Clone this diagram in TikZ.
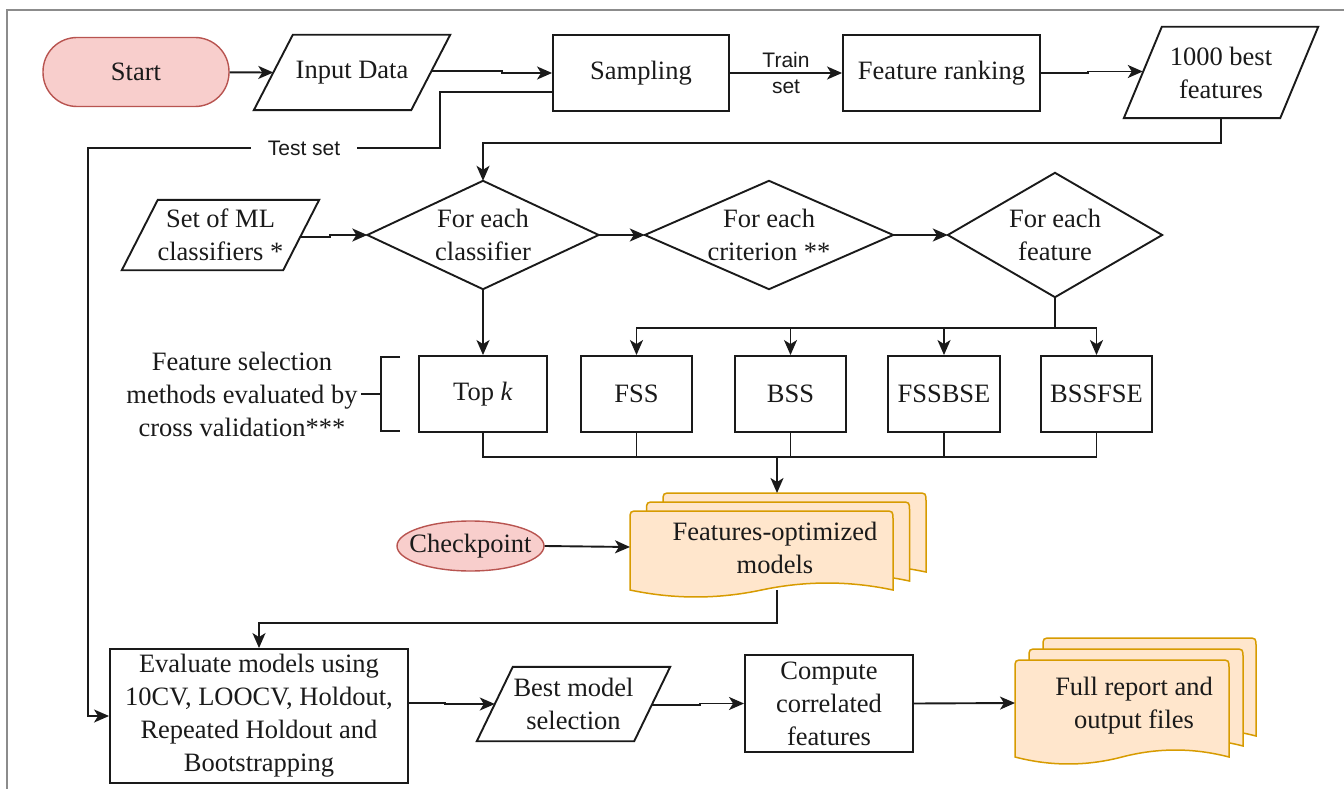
\documentclass[tikz,border=0pt]{standalone}
\usepackage{fontspec}
\setmainfont{Liberation Serif}
\setsansfont{Liberation Sans}
\usetikzlibrary{arrows.meta,calc,shapes.geometric}
\definecolor{ink}{HTML}{1A1A1A}
\definecolor{pinkfill}{HTML}{F8CECC}
\definecolor{pinkline}{HTML}{B85450}
\definecolor{docfill}{HTML}{FFE6CC}
\definecolor{docline}{HTML}{D79B00}
\definecolor{framegray}{HTML}{8C8C8C}
\tikzset{
  base/.style={inner sep=0pt, align=center, font=\fontsize{26.5}{33}\selectfont, text=ink},
  boxst/.style={base, draw=ink, line width=1.9pt, rectangle},
  termst/.style={base, draw=pinkline, fill=pinkfill, line width=1.4pt},
  plain/.style={base},
  conn/.style={draw=ink, line width=1.9pt},
  arr/.style={conn, -{Stealth[length=15pt,width=13pt,inset=4pt]}},
  lbl/.style={font=\sffamily\fontsize{21}{26}\selectfont, text=ink, align=center, inner sep=3pt},
  shapeline/.style={draw=ink, line width=1.9pt, line join=miter},
  docst/.style={draw=docline, fill=docfill, line width=1.5pt},
}
\newcommand{\para}[2]{\draw[shapeline] ([xshift=#2]#1.north west) -- (#1.north east) -- ([xshift=-#2]#1.south east) -- (#1.south west) -- cycle;}
\newcommand{\dia}[1]{\draw[shapeline] (#1.north) -- (#1.east) -- (#1.south) -- (#1.west) -- cycle;}
\newcommand{\docshape}[4]{%
  \filldraw[docst] (#1,#4) -- (#1,{#2+9}) .. controls (#1,#2) .. ({#1+9},#2) -- ({#3-9},#2) .. controls (#3,#2) .. (#3,{#2+9}) -- (#3,#4)
   .. controls ({#3-(#3-#1)/6},{#4-9.3}) and ({#3-(#3-#1)/3},{#4-9.3}) .. ({(#1+#3)/2},#4)
   .. controls ({(#1+#3)/2-(#3-#1)/6},{#4+9.3}) and ({#1+(#3-#1)/6},{#4+9.3}) .. (#1,#4) -- cycle;}
\begin{document}
\begin{tikzpicture}[x=1pt,y=-1pt]
\useasboundingbox (0,0) rectangle (1344,789);
% frame
\draw[framegray, line width=1.3pt] (7,789) -- (7,10) -- (1344,10);

% row 1
\node[termst, rounded corners=34pt, minimum width=186pt, minimum height=69pt] (start) at (136,72) {Start};
\node[plain, minimum width=196pt, minimum height=75pt] (input) at (352,72.5) {Input Data};
\para{input}{39pt}
\node[boxst, minimum width=176pt, minimum height=76pt] (samp) at (641,73) {Sampling};
\node[boxst, minimum width=197pt, minimum height=76pt] (rank) at (941.5,73) {Feature ranking};
\node[plain, minimum width=194pt, minimum height=91pt] (best) at (1221,72.5) {1000 best\\features};
\para{best}{38pt}

% row 2
\node[plain, minimum width=197pt, minimum height=70pt] (setml) at (220.5,235) {Set of ML\\classifiers *};
\para{setml}{36pt}
\node[plain, minimum width=231pt, minimum height=108pt] (cls) at (483,235) {For each\\classifier};
\dia{cls}
\node[plain, minimum width=248pt, minimum height=108pt] (crit) at (769,235) {For each\\criterion **};
\dia{crit}
\node[plain, minimum width=214pt, minimum height=124pt] (feat) at (1055,235) {For each\\feature};
\dia{feat}

% row 3
\node[plain] (fsm) at (242,394) {Feature selection\\methods evaluated by\\cross validation***};
\node[boxst, minimum width=128pt, minimum height=76pt] (topk) at (483,394) {Top \textit{k}};
\node[boxst, minimum width=111pt, minimum height=76pt] (fss) at (636.5,394) {FSS};
\node[boxst, minimum width=111pt, minimum height=76pt] (bss) at (790.5,394) {BSS};
\node[boxst, minimum width=112pt, minimum height=76pt] (fssbse) at (944,394) {FSSBSE};
\node[boxst, minimum width=111pt, minimum height=76pt] (bssfse) at (1096.5,394) {BSSFSE};
\draw[conn] (400,357) -- (381,357) -- (381,431) -- (400,431);
\draw[conn] (361,394) -- (381,394);

% row 4
\node[termst, ellipse, minimum width=147pt, minimum height=50pt] (chk) at (470.5,546) {\makebox[0pt]{Checkpoint}};
\docshape{663}{493}{926}{572}
\docshape{646.5}{502}{909.5}{581}
\docshape{630}{511}{893}{590}
\node[plain] (fom) at (775,548) {Features-optimized\\models};
\coordinate (fomtop) at (777,493);
\coordinate (fomleft) at (630,547);
\coordinate (fombot) at (777,590);

% row 5
\node[boxst, minimum width=298pt, minimum height=134pt] (eval) at (259,716) {Evaluate models using\\10CV, LOOCV, Holdout,\\Repeated Holdout and\\Bootstrapping};
\node[plain, minimum width=193pt, minimum height=74pt] (bms) at (573.5,704) {Best model\\selection};
\para{bms}{36pt}
\node[boxst, minimum width=168pt, minimum height=97pt] (comp) at (829,703.5) {Compute\\correlated\\features};
\docshape{1043}{638}{1256}{736}
\docshape{1029}{649}{1243}{746}
\docshape{1015}{660}{1229}{757}
\node[plain] (rep) at (1134,705.5) {Full report and\\output files};
\coordinate (repleft) at (1015,703);

% connectors
\draw[arr] (start) -- ([xshift=19.5pt]input.west);
\draw[arr] ([xshift=-18.7pt,yshift=1.5pt]input.east) -- (502,71) -- (502,73) -- (samp.west);
\draw[arr] (samp) -- (rank) node[midway, lbl] {Train\\set};
\draw[arr] (rank.east) -- (1088,73) -- (1088,71.5) -- ([xshift=19pt,yshift=1pt]best.west);
\draw[arr] ([yshift=-19pt]samp.west) -- (440,92) -- (440,148) -- (88,148) -- (88,716) -- (eval.west);
\node[lbl, fill=white, inner xsep=17pt] (tsl) at (304,148) {Test set};
\draw[arr] (best.south) -- (1221,143) -- (483,143) -- (cls.north);
\draw[arr] ([xshift=-18pt,yshift=-2pt]setml.east) -- (330,237) -- (330,235) -- (cls.west);
\draw[arr] (cls.east) -- (crit.west);
\draw[arr] (crit.east) -- (feat.west);
\draw[arr] (cls.south) -- (topk.north);
\coordinate (br) at (1055,328);
\draw[conn] (feat.south) -- (br);
\draw[arr] (br) -| (fss.north);
\draw[arr] (br) -| (bss.north);
\draw[arr] (br) -| (fssbse.north);
\draw[arr] (br) -| (bssfse.north);
\coordinate (mg) at (777,457);
\draw[conn] (topk.south) |- (mg);
\draw[conn] (fss.south) |- (mg);
\draw[conn] (bss.south) |- (mg);
\draw[conn] (fssbse.south) |- (mg);
\draw[conn] (bssfse.south) |- (mg);
\draw[arr] (mg) -- (fomtop);
\draw[arr] (chk.east) -- (fomleft);
\draw[arr] (fombot) -- (777,623) -| (eval.north);
\draw[arr] ([yshift=13pt]eval.east) -- (445,703) -- (445,704) -- ([xshift=18pt]bms.west);
\draw[arr] ([xshift=-18pt,yshift=-1pt]bms.east) -- (700,705) -- (700,703.5) -- (comp.west);
\draw[arr] (comp.east) -- (repleft);
\end{tikzpicture}
\end{document}
